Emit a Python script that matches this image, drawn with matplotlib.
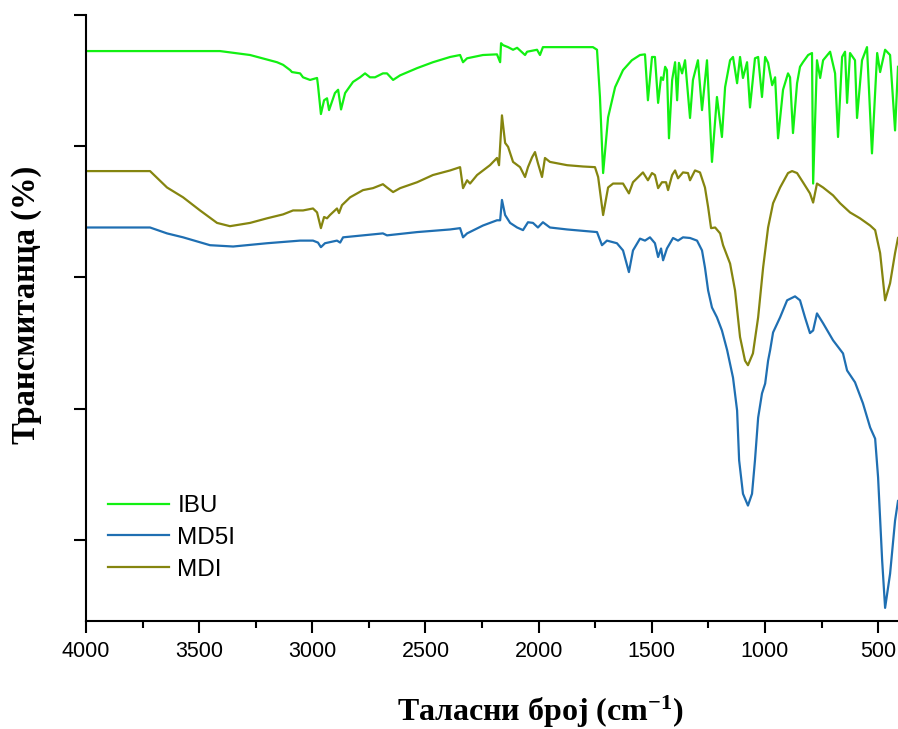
import matplotlib
matplotlib.use("Agg")
import matplotlib.pyplot as plt
from matplotlib.ticker import MultipleLocator, NullFormatter

# ---------------- data (wavenumber cm-1, transmittance arb. %) ----------------
ibu_x = [4000, 3717, 3408, 3275, 3156, 3129, 3098, 3090, 3054, 3041, 3010, 2979, 2975,
         2962, 2948, 2935, 2926, 2900, 2886, 2873, 2855, 2820, 2789, 2767, 2745, 2723,
         2688, 2670, 2643, 2612, 2537, 2467, 2391, 2347, 2334, 2316, 2246, 2184, 2170,
         2166, 2157, 2135, 2113, 2095, 2060, 2051, 2007, 1994, 1981, 1950, 1874, 1804,
         1760, 1742, 1729, 1715, 1693, 1662, 1627, 1588, 1552, 1530, 1517, 1499, 1486,
         1472, 1459, 1450, 1441, 1433, 1424, 1410, 1397, 1388, 1380, 1366, 1353, 1331,
         1318, 1296, 1278, 1256, 1234, 1212, 1190, 1176, 1154, 1141, 1123, 1110, 1097,
         1079, 1066, 1044, 1030, 1013, 999, 986, 968, 955, 942, 920, 898, 889, 876, 858,
         845, 832, 809, 792, 787, 770, 756, 743, 712, 690, 677, 659, 646, 637, 624, 602,
         593, 571, 549, 527, 504, 491, 469, 447, 425, 412]
ibu_y = [94.5, 94.5, 94.5, 93.9, 92.8, 92.4, 91.6, 91.3, 91.1, 90.5, 90.1, 90.4, 89.3,
         84.9, 87.0, 87.3, 85.5, 88.1, 88.6, 85.6, 88.1, 89.8, 90.5, 91.1, 90.5, 90.5,
         91.1, 91.1, 90.1, 90.8, 91.9, 92.8, 93.6, 93.9, 92.8, 93.4, 93.9, 94.0, 92.8,
         95.7, 95.4, 95.1, 94.7, 95.0, 93.9, 94.4, 94.7, 93.9, 95.1, 95.1, 95.1, 95.1,
         95.1, 94.7, 87.5, 75.9, 84.4, 89.0, 91.6, 93.1, 93.9, 94.0, 87.0, 93.6, 93.6,
         86.6, 90.5, 90.1, 92.1, 91.6, 81.2, 90.1, 92.8, 87.0, 92.7, 91.1, 93.1, 84.3,
         90.1, 93.1, 85.5, 93.1, 77.6, 87.5, 81.4, 89.0, 93.1, 93.6, 89.6, 93.6, 90.4,
         92.8, 85.9, 93.4, 93.6, 87.5, 93.6, 92.7, 89.3, 90.5, 81.2, 88.6, 91.1, 90.5,
         82.0, 89.6, 92.1, 92.8, 93.9, 94.2, 74.3, 93.1, 90.4, 93.1, 94.4, 91.1, 81.4,
         93.6, 94.4, 86.6, 94.2, 93.1, 84.3, 93.1, 95.1, 78.9, 94.2, 91.3, 94.7, 93.9,
         82.4, 92.1]

mdi_x = [4000, 3717, 3642, 3571, 3496, 3421, 3364, 3275, 3200, 3129, 3085, 3041, 2997,
         2979, 2962, 2948, 2935, 2922, 2891, 2882, 2869, 2833, 2776, 2732, 2688, 2670,
         2643, 2612, 2537, 2467, 2391, 2347, 2334, 2316, 2303, 2272, 2215, 2184, 2175,
         2162, 2148, 2135, 2113, 2082, 2060, 2047, 2029, 2016, 2003, 1985, 1972, 1950,
         1874, 1804, 1751, 1737, 1715, 1693, 1671, 1627, 1601, 1583, 1539, 1517, 1499,
         1486, 1472, 1455, 1437, 1428, 1410, 1397, 1384, 1362, 1340, 1331, 1309, 1287,
         1265, 1251, 1238, 1220, 1198, 1185, 1154, 1132, 1110, 1088, 1075, 1053, 1030,
         1008, 986, 964, 933, 898, 880, 858, 832, 801, 787, 770, 743, 699, 668, 624, 580,
         535, 513, 491, 469, 447, 425, 412]
mdi_y = [76.2, 76.2, 73.7, 72.2, 70.2, 68.3, 67.8, 68.3, 69.0, 69.6, 70.2, 70.2, 70.5,
         69.9, 67.5, 69.2, 69.0, 69.5, 70.5, 69.8, 71.0, 72.2, 73.3, 73.6, 74.2, 73.7,
         73.0, 73.6, 74.5, 75.6, 76.3, 76.8, 73.6, 74.8, 74.3, 75.6, 77.1, 78.2, 77.1,
         84.7, 80.5, 79.9, 77.6, 76.8, 75.3, 76.8, 78.3, 79.1, 77.4, 75.3, 78.2, 77.6,
         77.1, 76.9, 76.8, 75.3, 69.5, 73.7, 74.3, 74.3, 72.8, 74.5, 76.0, 74.8, 75.9,
         75.6, 73.6, 74.5, 74.5, 73.3, 75.6, 76.3, 75.1, 76.0, 75.9, 74.8, 76.3, 76.0,
         73.7, 70.7, 67.5, 67.6, 66.7, 64.9, 62.1, 58.0, 50.9, 47.3, 46.6, 48.4, 53.9,
         61.5, 67.6, 71.3, 73.7, 75.9, 76.2, 75.9, 74.5, 72.8, 71.4, 74.3, 73.7, 72.5,
         71.3, 69.9, 69.0, 67.9, 67.2, 63.7, 56.5, 59.1, 63.7, 66.0]

md5i_x = [4000, 3717, 3642, 3571, 3452, 3350, 3200, 3054, 2997, 2975, 2962, 2944, 2891,
          2877, 2864, 2688, 2670, 2537, 2391, 2347, 2334, 2316, 2246, 2184, 2170, 2162,
          2148, 2126, 2095, 2069, 2047, 2025, 2003, 1981, 1950, 1874, 1742, 1720, 1698,
          1654, 1627, 1601, 1583, 1552, 1530, 1508, 1486, 1472, 1459, 1450, 1433, 1406,
          1384, 1362, 1331, 1300, 1278, 1265, 1251, 1234, 1212, 1190, 1167, 1141, 1123,
          1114, 1097, 1075, 1057, 1044, 1030, 1013, 999, 986, 977, 964, 933, 902, 867,
          845, 823, 801, 787, 770, 743, 699, 655, 637, 602, 567, 535, 513, 500, 482, 469,
          447, 425, 412]
md5i_y = [67.6, 67.6, 66.7, 66.1, 64.9, 64.7, 65.2, 65.6, 65.6, 65.3, 64.6, 65.2, 65.6,
          65.3, 66.1, 66.7, 66.4, 66.9, 67.3, 67.5, 66.1, 66.7, 67.9, 68.7, 68.7, 71.8,
          69.5, 68.3, 67.6, 67.2, 68.4, 68.3, 67.6, 68.4, 67.6, 67.3, 66.9, 64.9, 65.6,
          65.2, 64.1, 60.8, 64.1, 65.9, 65.6, 66.1, 65.2, 63.1, 64.4, 62.6, 64.4, 66.0,
          65.6, 66.1, 66.0, 65.6, 64.1, 61.5, 58.0, 55.4, 53.9, 51.9, 48.9, 44.7, 39.7,
          32.1, 27.0, 25.2, 27.0, 32.1, 38.6, 42.3, 43.8, 47.3, 48.9, 51.6, 53.9, 56.5,
          57.1, 56.5, 53.9, 51.5, 51.9, 54.5, 53.0, 50.4, 48.4, 45.8, 44.0, 40.8, 37.1,
          35.4, 29.5, 16.8, 9.6, 14.8, 22.9, 25.9]

series_names = ["IBU", "MD5I", "MDI"]
x_major_ticks = [4000, 3500, 3000, 2500, 2000, 1500, 1000, 500]
y_major_ticks = [20, 40, 60, 80, 100]

# ---------------- styling ----------------
plt.rcParams['mathtext.fontset'] = 'custom'
plt.rcParams['mathtext.rm'] = 'Liberation Serif:bold'
plt.rcParams['mathtext.default'] = 'rm'

W, H = 898, 729
fig = plt.figure(figsize=(W / 100, H / 100), dpi=100)
ax = fig.add_axes([86 / W, 1 - 621 / H, (W - 86) / W, (621 - 15) / H])

colors = {"IBU": "#12f012", "MD5I": "#1f6fb2", "MDI": "#85850f"}
data = {"IBU": (ibu_x, ibu_y), "MD5I": (md5i_x, md5i_y), "MDI": (mdi_x, mdi_y)}
for name in series_names:
    xs, ys = data[name]
    ax.plot(xs, ys, color=colors[name], lw=1.6, label=name, solid_joinstyle='round')

ax.set_xlim(4000, 412)
ax.set_ylim(7.6, 100)
ax.set_xticks(x_major_ticks)
ax.xaxis.set_minor_locator(MultipleLocator(250))
ax.set_yticks(y_major_ticks)
ax.yaxis.set_major_formatter(NullFormatter())

for s in ["top", "right"]:
    ax.spines[s].set_visible(False)
for s in ["left", "bottom"]:
    ax.spines[s].set_linewidth(1.5)

ax.tick_params(axis='x', which='major', direction='out', length=8.5, width=1.5, pad=6,
               labelsize=15.5)
ax.tick_params(axis='x', which='minor', direction='out', length=5, width=1.5)
ax.tick_params(axis='y', which='major', direction='out', length=9, width=1.5)
for lab in ax.get_xticklabels():
    lab.set_fontfamily('Liberation Sans')

fig.text(540 / W, 1 - 712 / H, "Таласни број (cm$^{-1}$)", ha='center', va='center',
         fontsize=23, fontweight='bold', family='Liberation Serif')
fig.text(27 / W, 1 - 305 / H, "Трансмитанца (%)", ha='center', va='center',
         rotation=90, fontsize=23.5, fontweight='bold', family='Liberation Serif')

leg = ax.legend(loc='upper left', bbox_to_anchor=(96 / W, 1 - 483 / H),
                bbox_transform=fig.transFigure, frameon=False, borderpad=0,
                handlelength=2.5, handletextpad=0.35, labelspacing=0.40,
                prop={'family': 'Liberation Sans', 'size': 17.5})

fig.savefig("out.png", dpi=100)
